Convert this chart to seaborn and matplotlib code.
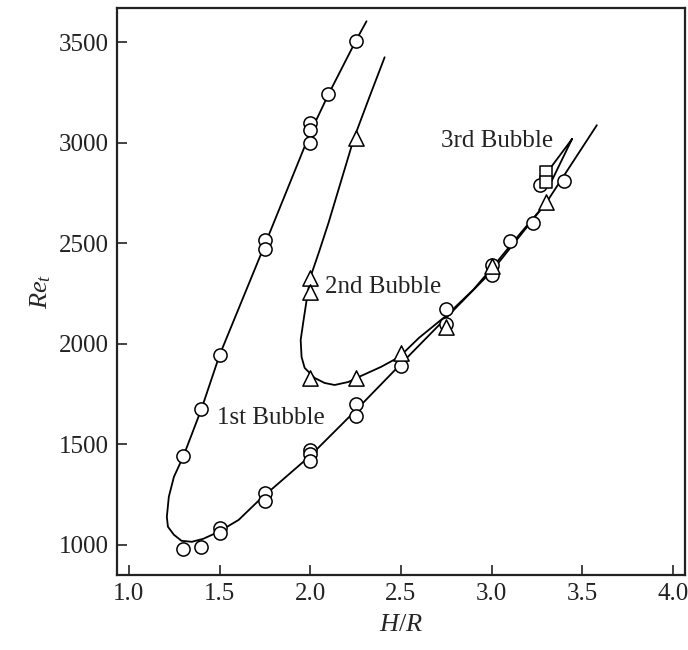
import matplotlib
matplotlib.use("Agg")
import matplotlib.pyplot as plt
import seaborn as sns
import pandas as pd

# ---- data ----
circle_x = [2.25, 2.10, 2.0, 2.0, 2.0, 1.75, 1.75, 1.5, 1.4, 1.3, 1.3, 1.4, 1.5, 1.5, 1.75, 1.75,
            2.0, 2.0, 2.0, 2.25, 2.25, 2.5, 2.75, 2.75, 3.0, 3.0, 3.1, 3.23, 3.265, 3.4]
circle_y = [3505, 3240, 3100, 3063, 2998, 2516, 2471, 1944, 1676, 1440, 980, 990, 1085, 1060, 1260, 1219,
            1470, 1450, 1417, 1698, 1640, 1890, 2172, 2100, 2390, 2340, 2510, 2600, 2790, 2812]

triangle_x = [2.25, 2.0, 2.0, 2.0, 2.25, 2.5, 2.75, 3.0, 3.3]
triangle_y = [3023, 2327, 2257, 1828, 1828, 1955, 2083, 2385, 2705]

square_x = [3.3, 3.3]
square_y = [2854, 2804]

# traced fitted curves
bubble1_x = [2.31, 2.25, 2.10, 2.00, 1.75, 1.50, 1.40, 1.30, 1.248, 1.22, 1.209, 1.215, 1.248, 1.29,
             1.347, 1.41, 1.495, 1.605, 1.72, 2.00, 2.25, 2.50, 2.75, 3.00, 3.30, 3.58]
bubble1_y = [3604, 3505, 3240, 3050, 2494, 1944, 1676, 1440, 1338, 1239, 1139, 1090, 1050, 1020,
             1015, 1030, 1065, 1124, 1224, 1443, 1668, 1900, 2130, 2360, 2700, 3087]

bubble2_x = [2.41, 2.326, 2.24, 2.17, 2.10, 2.046, 2.0, 1.98, 1.963, 1.947, 1.952, 1.969, 2.024, 2.079,
             2.134, 2.21, 2.28, 2.39, 2.49, 2.60, 2.75, 2.90, 3.00, 3.15, 3.30]
bubble2_y = [3425, 3227, 3020, 2810, 2600, 2451, 2330, 2218, 2118, 2019, 1934, 1880, 1830, 1805,
             1795, 1810, 1840, 1885, 1934, 2030, 2140, 2270, 2375, 2540, 2700]

bubble3_x = [3.443, 3.328, 3.257, 3.246, 3.252, 3.275, 3.317, 3.443]
bubble3_y = [3018, 2879, 2789, 2770, 2760, 2760, 2784, 3018]

labels = ["1st Bubble", "2nd Bubble", "3rd Bubble"]
label_x = [1.78, 2.40, 3.03]
label_y = [1630, 2282, 3008]

x_ticks = [1.0, 1.5, 2.0, 2.5, 3.0, 3.5, 4.0]
y_ticks = [1000, 1500, 2000, 2500, 3000, 3500]

# ---- style ----
sns.set_theme(style="ticks")
plt.rcParams["font.family"] = ["Liberation Serif", "DejaVu Serif"]
plt.rcParams["mathtext.fontset"] = "custom"
plt.rcParams["mathtext.rm"] = "Liberation Serif"
plt.rcParams["mathtext.it"] = "Liberation Serif:italic"

fig = plt.figure(figsize=(6.88, 6.5), dpi=100)
ax = fig.add_axes([0.170, 0.1154, 0.8256, 0.8723])

for cx, cy in [(bubble1_x, bubble1_y), (bubble2_x, bubble2_y), (bubble3_x, bubble3_y)]:
    df = pd.DataFrame({"x": cx, "y": cy})
    sns.lineplot(data=df, x="x", y="y", sort=False, estimator=None, color="black",
                 linewidth=1.3, ax=ax)

sns.scatterplot(x=circle_x, y=circle_y, marker="o", s=90, facecolor="white",
                edgecolor="black", linewidth=1.1, ax=ax, zorder=3)
sns.scatterplot(x=triangle_x, y=triangle_y, marker="^", s=120, facecolor="white",
                edgecolor="black", linewidth=1.1, ax=ax, zorder=4)
sns.scatterplot(x=square_x, y=square_y, marker="s", s=80, facecolor="white",
                edgecolor="black", linewidth=1.1, ax=ax, zorder=5)

for t, lx, ly in zip(labels, label_x, label_y):
    ax.text(lx, ly, t, ha="center", va="center", fontsize=18, color="#222222")

ax.set_xlim(0.934, 4.066)
ax.set_ylim(850, 3670)
ax.set_xticks(x_ticks)
ax.set_xticklabels([f"{v:.1f}" for v in x_ticks])
ax.set_yticks(y_ticks)
ax.set_yticklabels([str(v) for v in y_ticks])
ax.tick_params(direction="in", length=7, width=1.2, labelsize=18, colors="#222222", pad=6)
for sp in ax.spines.values():
    sp.set_linewidth(1.6)
    sp.set_color("#222222")
ax.set_xlabel("$H/R$", fontsize=19, labelpad=6)
ax.set_ylabel("$Re_t$", fontsize=19, labelpad=4)

fig.savefig("out.png", dpi=100)
